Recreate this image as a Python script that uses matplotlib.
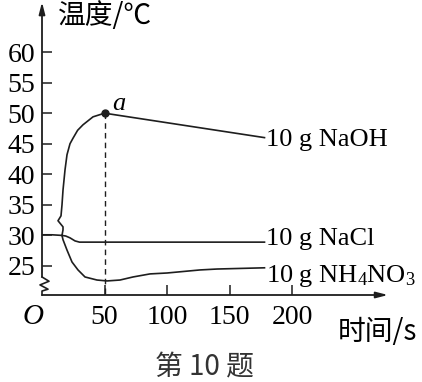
import matplotlib
matplotlib.use('Agg')
import matplotlib.pyplot as plt

plt.rcParams['font.family'] = ['Liberation Serif', 'DejaVu Serif']
plt.rcParams['mathtext.default'] = 'regular'
CJK = ['Noto Sans CJK SC', 'DejaVu Sans']
INK = '#1e1e1e'

# temperature curves (time in s, temperature in C)
nacl_t = [0, 8, 16, 19, 22.4, 26.4, 30, 60, 100, 140, 178]
nacl_v = [30.1, 30.1, 30.0, 29.9, 29.6, 29.1, 28.9, 28.9, 28.9, 28.9, 28.9]

naoh_t = [16, 16.8, 16.8, 12.8, 15.2, 16, 16.8, 18.4, 20, 22.4, 24.8, 28.5, 32.8, 40.8, 50, 178]
naoh_v = [30.0, 30.9, 31.4, 32.4, 33.2, 35.0, 37.4, 40.7, 43.2, 45.0, 45.9, 47.2, 48.1, 49.4, 50.0, 46.0]

nh4_t = [16, 16.8, 20, 24, 28.8, 34.4, 44, 52, 62.4, 72.8, 86.4, 100, 126.4, 140, 178]
nh4_v = [30.0, 29.3, 27.6, 25.65, 24.35, 23.2, 22.7, 22.55, 22.7, 23.2, 23.7, 23.85, 24.35, 24.5, 24.7]

peak_t, peak_v = 50, 50

y_ticks = [25, 30, 35, 40, 45, 50, 55, 60]
x_ticks = [50, 100, 150, 200]

labels = ['10 g NaOH', '10 g NaCl', '10 g NH$_4$NO$_3$']


def main():
    fig = plt.figure(figsize=(4.22, 3.82), dpi=100, facecolor='white')
    ax = fig.add_axes([42 / 422, 87 / 382, 346 / 422, 290 / 382])
    ax.set_xlim(0, 276.8)
    ax.set_ylim(20.25, 67.7)
    for s in ax.spines.values():
        s.set_visible(False)

    lw = 1.2
    ax.plot(nacl_t, nacl_v, color=INK, lw=lw)
    ax.plot(naoh_t, naoh_v, color=INK, lw=lw)
    ax.plot(nh4_t, nh4_v, color=INK, lw=lw)

    ax.plot([peak_t, peak_t], [peak_v, 20.25], color=INK, lw=1.0,
            linestyle=(0, (4, 3)))
    ax.plot([peak_t], [peak_v], 'o', color=INK, ms=5)
    ax.annotate('a', (peak_t, peak_v), xytext=(14, 9), textcoords='offset pixels',
                fontsize=19, style='italic', ha='center', va='center')

    # series labels at the right end of each curve
    ends = [(naoh_t[-1], naoh_v[-1]), (nacl_t[-1], nacl_v[-1]), (nh4_t[-1], nh4_v[-1])]
    offsets = [(2, -2), (2, 3), (2, -8)]
    for (t, v), lab, off in zip(ends, labels, offsets):
        ax.annotate(lab, (t, v), xytext=off, textcoords='offset pixels',
                    fontsize=19, ha='left', va='center')

    # axes with arrows, y axis has a break near the bottom
    ax.annotate('', xy=(1.0, 0), xytext=(0, 0), xycoords='axes fraction',
                arrowprops=dict(arrowstyle='-|>,head_length=0.7,head_width=0.18',
                                color=INK, lw=1.3, shrinkA=0, shrinkB=0))
    ax.annotate('', xy=(0, 1.01), xytext=(0, 23.2),
                xycoords=('data', 'axes fraction'), textcoords='data',
                arrowprops=dict(arrowstyle='-|>,head_length=0.7,head_width=0.18',
                                color=INK, lw=1.3, shrinkA=0, shrinkB=0))
    ax.plot([0, 5.6, -1.6, 4.8, 0, 0], [23.2, 22.5, 21.9, 21.2, 20.9, 20.25],
            color=INK, lw=1.2, clip_on=False)

    ax.set_yticks(y_ticks)
    ax.set_xticks(x_ticks)
    ax.tick_params(axis='both', direction='in', length=7.5, width=1.1, color=INK,
                   labelsize=20)
    ax.tick_params(axis='y', pad=5)
    ax.tick_params(axis='x', pad=7)

    fig.text(33 / 422, 1 - 317 / 382, 'O', fontsize=21, style='italic',
             ha='center', va='center')
    fig.text(105 / 422, 1 - 16 / 382, '温度/℃', family=CJK, fontsize=20,
             ha='center', va='center')
    fig.text(377 / 422, 1 - 332 / 382, '时间/s', family=CJK, fontsize=20,
             ha='center', va='center')
    fig.text(204 / 422, 1 - 367 / 382, '第 10 题', family=CJK, fontsize=20,
             ha='center', va='center', color='#333333')

    fig.savefig('out.png', dpi=100, facecolor='white')
    plt.close(fig)


if __name__ == '__main__':
    main()
